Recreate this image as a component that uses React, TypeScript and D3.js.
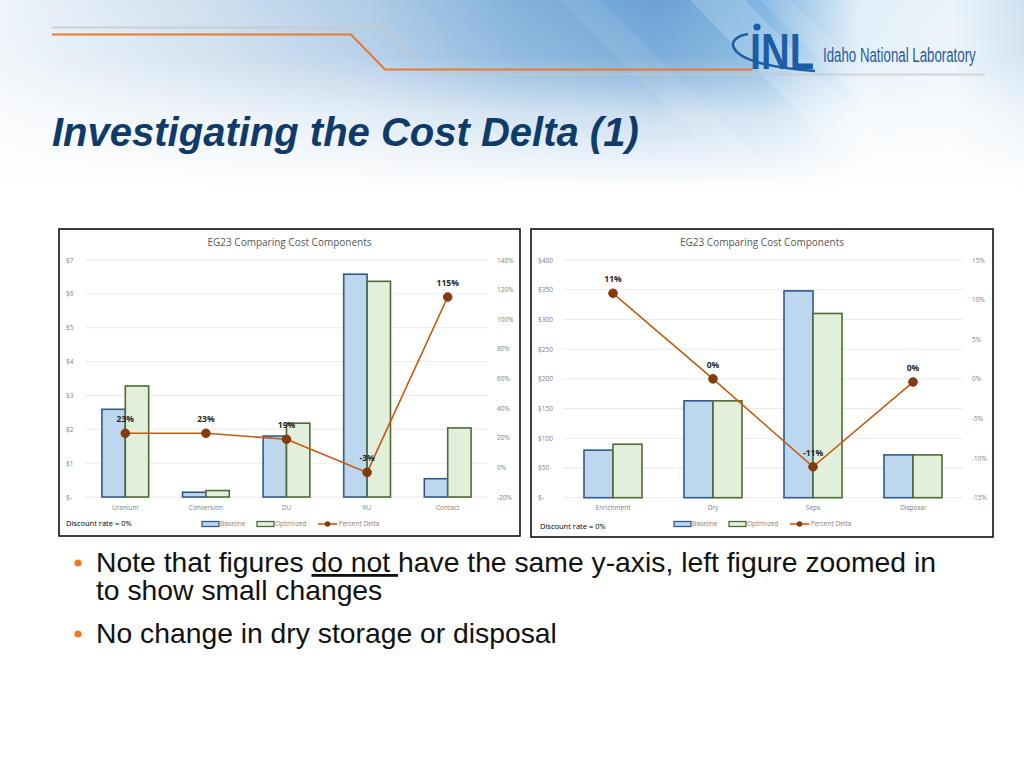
import React from 'react';
import * as d3 from 'd3';

// ---------- data ----------
const leftCategories = ['Uranium', 'Conversion', 'DU', 'RU', 'Contact'];
const leftBaseline = [2.59, 0.14, 1.8, 6.58, 0.54];
const leftOptimized = [3.28, 0.19, 2.18, 6.37, 2.04];
const leftDelta = [0.23, 0.23, 0.19, -0.034, 1.15];
const leftCostTicks = [0, 1, 2, 3, 4, 5, 6, 7];
const leftPctTicks = [-0.2, 0, 0.2, 0.4, 0.6, 0.8, 1.0, 1.2, 1.4];

const rightCategories = ['Enrichment', 'Dry', 'Seps', 'Disposal'];
const rightBaseline = [80, 163, 348, 72];
const rightOptimized = [90, 163, 310, 72];
const rightDelta = [0.108, 0.0, -0.111, -0.004];
const rightCostTicks = [0, 50, 100, 150, 200, 250, 300, 350, 400];
const rightPctTicks = [-0.15, -0.1, -0.05, 0, 0.05, 0.1, 0.15];

const seriesNames = ['Baseline', 'Optimized', 'Percent Delta'];
const chartTitle = 'EG23 Comparing Cost Components';
const discountNote = 'Discount rate = 0%';
const slideTitle = 'Investigating the Cost Delta (1)';

const locale = d3.formatLocale({ decimal: '.', thousands: ',', grouping: [3], currency: ['$', ''], minus: '-' });
const pctFmt = locale.format('.0%');
const costFmt = (v: number) => (v === 0 ? '$-' : '$' + locale.format(',')(v));

const FONT = "'Open Sans', 'Noto Sans', sans-serif";
const BASE_FILL = '#bdd7ee';
const BASE_STROKE = '#2f5a8f';
const OPT_FILL = '#e2efda';
const OPT_STROKE = '#4f6b34';
const LINE = '#c55a11';
const MARK = '#843c0c';

type ChartProps = {
  box: [number, number, number, number];
  plot: [number, number, number, number];
  categories: string[];
  baseline: number[];
  optimized: number[];
  delta: number[];
  costTicks: number[];
  pctTicks: number[];
  legendX: number;
  noteX: number;
  noteY: number;
};

function ComboChart(p: ChartProps) {
  const [bx0, by0, bx1, by1] = p.box;
  const [px0, py0, px1, py1] = p.plot;
  const x = d3.scaleBand<string>().domain(p.categories).range([px0, px1]).padding(0);
  const inner = d3.scaleBand<string>().domain(['b', 'o']).range([x.bandwidth() * 0.21, x.bandwidth() * 0.79]).padding(0);
  const yL = d3.scaleLinear().domain(d3.extent(p.costTicks) as [number, number]).range([py1, py0]);
  const yR = d3.scaleLinear().domain(d3.extent(p.pctTicks) as [number, number]).range([py1, py0]);
  const line = d3
    .line<number>()
    .x((_, i) => (x(p.categories[i]) as number) + x.bandwidth() / 2)
    .y((d) => yR(d));
  const legendY = 524;
  const lx = p.legendX;
  return (
    <g>
      <rect x={bx0} y={by0} width={bx1 - bx0} height={by1 - by0} fill="#fff" stroke="#000" strokeWidth={1.5} />
      <text x={(bx0 + bx1) / 2} y={by0 + 17} textAnchor="middle" fontFamily={FONT} fontSize={10} fill="#595959">
        {chartTitle}
      </text>
      {p.costTicks.map((t) => (
        <g key={'c' + t}>
          <line x1={px0} x2={px1} y1={yL(t)} y2={yL(t)} stroke="#e4e4e4" strokeWidth={0.8} />
          <text x={bx0 + 7} y={yL(t) + 2.5} fontFamily={FONT} fontSize={6.5} fill="#7f7f7f">
            {costFmt(t)}
          </text>
        </g>
      ))}
      {p.pctTicks.map((t) => (
        <text key={'p' + t} x={px1 + 9} y={yR(t) + 2.5} fontFamily={FONT} fontSize={6.5} fill="#7f7f7f">
          {pctFmt(t)}
        </text>
      ))}
      {p.categories.map((c, i) => {
        const gx = x(c) as number;
        return (
          <g key={c}>
            <rect
              x={gx + (inner('b') as number)}
              y={yL(p.baseline[i])}
              width={inner.bandwidth()}
              height={yL(0) - yL(p.baseline[i])}
              fill={BASE_FILL}
              stroke={BASE_STROKE}
              strokeWidth={1.6}
            />
            <rect
              x={gx + (inner('o') as number)}
              y={yL(p.optimized[i])}
              width={inner.bandwidth()}
              height={yL(0) - yL(p.optimized[i])}
              fill={OPT_FILL}
              stroke={OPT_STROKE}
              strokeWidth={1.6}
            />
            <text x={gx + x.bandwidth() / 2} y={py1 + 12.5} textAnchor="middle" fontFamily={FONT} fontSize={6.5} fill="#7f7f7f">
              {c}
            </text>
          </g>
        );
      })}
      <path d={line(p.delta) as string} fill="none" stroke={LINE} strokeWidth={1.6} />
      {p.delta.map((d, i) => {
        const cx = (x(p.categories[i]) as number) + x.bandwidth() / 2;
        return (
          <g key={'d' + i}>
            <circle cx={cx} cy={yR(d)} r={4.3} fill={MARK} stroke={MARK} />
            <text x={cx} y={yR(d) - 11} textAnchor="middle" fontFamily={FONT} fontWeight="bold" fontSize={8.5} fill="#262626">
              {pctFmt(d)}
            </text>
          </g>
        );
      })}
      <text x={p.noteX} y={p.noteY} fontFamily={FONT} fontSize={7.5} fill="#000">
        {discountNote}
      </text>
      <g fontFamily={FONT} fontSize={6.5} fill="#7f7f7f">
        <rect x={lx} y={legendY - 2.5} width={17} height={5} fill={BASE_FILL} stroke={BASE_STROKE} strokeWidth={1.3} />
        <text x={lx + 18} y={legendY + 2.3}>{seriesNames[0]}</text>
        <rect x={lx + 55} y={legendY - 2.5} width={17} height={5} fill={OPT_FILL} stroke={OPT_STROKE} strokeWidth={1.3} />
        <text x={lx + 73} y={legendY + 2.3}>{seriesNames[1]}</text>
        <line x1={lx + 116} x2={lx + 135} y1={legendY} y2={legendY} stroke={LINE} strokeWidth={1.6} />
        <circle cx={lx + 125.5} cy={legendY} r={2.8} fill={MARK} />
        <text x={lx + 136.5} y={legendY + 2.3}>{seriesNames[2]}</text>
      </g>
    </g>
  );
}

function Header() {
  return (
    <g>
      <defs>
        <linearGradient id="hbg" x1="0" x2="1" y1="0" y2="0">
          <stop offset="0" stopColor="#eef4fa" />
          <stop offset="0.2" stopColor="#cfe0ef" />
          <stop offset="0.36" stopColor="#b0cce7" />
          <stop offset="0.5" stopColor="#84b2db" />
          <stop offset="0.64" stopColor="#6aa2d4" />
          <stop offset="0.75" stopColor="#82b6e1" />
          <stop offset="0.84" stopColor="#e2eff9" />
          <stop offset="0.93" stopColor="#eaf3fa" />
          <stop offset="1" stopColor="#cfe2f1" />
        </linearGradient>
        <linearGradient id="hfade" x1="0" x2="0" y1="0" y2="1">
          <stop offset="0" stopColor="#fff" stopOpacity="0" />
          <stop offset="0.3" stopColor="#fff" stopOpacity="0.12" />
          <stop offset="0.6" stopColor="#fff" stopOpacity="0.65" />
          <stop offset="1" stopColor="#fff" stopOpacity="1" />
        </linearGradient>
      </defs>
      <rect x={0} y={0} width={1024} height={190} fill="url(#hbg)" />
      <polygon points="690,0 745,0 880,140 825,140" fill="#fff" opacity={0.18} />
      <polygon points="760,0 790,0 930,140 900,140" fill="#fff" opacity={0.12} />
      <polygon points="560,0 600,0 760,160 720,160" fill="#fff" opacity={0.08} />
      <rect x={0} y={0} width={1024} height={190} fill="url(#hfade)" />
      <polyline points="52,27.5 384,27.5 420,63" fill="none" stroke="#c8c8c8" strokeWidth={1.8} opacity={0.8} />
      <line x1={430} x2={985} y1={74.5} y2={74.5} stroke="#c8c8c8" strokeWidth={1.8} opacity={0.7} />
      <polyline points="52,34.5 351,34.5 385,69.5 752,69.5" fill="none" stroke="#e87a2e" strokeWidth={2} />
      {/* logo */}
      <path d="M 748 34 C 725 38, 728 54, 760 63 C 780 68, 800 70, 815 71" fill="none" stroke="#1b5ea3" strokeWidth={2.6} />
      <circle cx={757} cy={27} r={3.6} fill="#1b5ea3" />
      <text x={750} y={69} fontFamily="'Liberation Sans Narrow', 'Liberation Sans', sans-serif" fontWeight="bold" fontSize={50} fill="#1b5ea3" textLength={64} lengthAdjust="spacingAndGlyphs">
        INL
      </text>
      <text transform="translate(823,62) scale(0.83,1.3)" fontFamily="'Liberation Sans Narrow', 'Liberation Sans', sans-serif" fontSize={16} fill="#1f5da0">
        Idaho National Laboratory
      </text>
    </g>
  );
}

export default function App() {
  return (
    <svg width={1024} height={768} style={{ position: 'absolute', left: 0, top: 0 }}>
      <rect x={0} y={0} width={1024} height={768} fill="#fff" />
      <Header />
      <text x={52} y={146} fontFamily="'Liberation Sans', Arial, sans-serif" fontWeight="bold" fontStyle="italic" fontSize={40} fill="#0e3b69">
        {slideTitle}
      </text>
      <ComboChart
        box={[59, 229, 520, 536]}
        plot={[85, 260, 488, 497]}
        categories={leftCategories}
        baseline={leftBaseline}
        optimized={leftOptimized}
        delta={leftDelta}
        costTicks={leftCostTicks}
        pctTicks={leftPctTicks}
        legendX={202}
        noteX={66}
        noteY={526}
      />
      <ComboChart
        box={[531, 229, 993, 537]}
        plot={[563, 260, 963, 497.7]}
        categories={rightCategories}
        baseline={rightBaseline}
        optimized={rightOptimized}
        delta={rightDelta}
        costTicks={rightCostTicks}
        pctTicks={rightPctTicks}
        legendX={674}
        noteX={540}
        noteY={529}
      />
      <g fontFamily="'Liberation Sans', Arial, sans-serif" fontSize={28.3} fill="#111">
        <circle cx={78} cy={563} r={3.6} fill="#f07a23" />
        <text x={96} y={572}>
          Note that figures <tspan textDecoration="underline" style={{ textDecoration: 'underline' }}>do not </tspan>have the same y-axis, left figure zoomed in
        </text>
        <text x={96} y={600}>to show small changes</text>
        <circle cx={78} cy={634} r={3.6} fill="#f07a23" />
        <text x={96} y={643}>No change in dry storage or disposal</text>
      </g>
    </svg>
  );
}
